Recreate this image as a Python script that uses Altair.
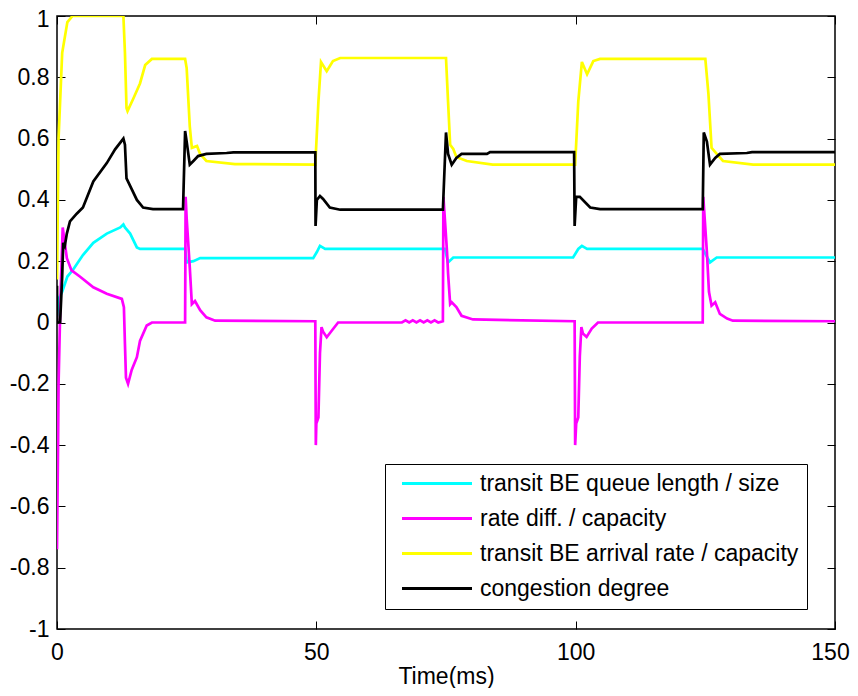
import altair as alt
import pandas as pd

# ---- data ----
names = ["transit BE queue length / size", "rate diff. / capacity",
         "transit BE arrival rate / capacity", "congestion degree"]
colors = ["#00FFFF", "#FF00FF", "#FFFF00", "#000000"]

queue_t = [0, 0.4, 1, 2, 3, 3.8, 5, 7, 9.6, 12.2, 12.8, 13.1, 14.1, 15.4, 16, 24.7, 25, 26.3, 27.6,
           49.4, 50.1, 50.7, 51.7, 74.8, 75.4, 76.4, 99.5, 100.5, 101.2, 102.2, 124.5, 125.9, 127.2, 150]
queue_v = [0.02, 0.08, 0.10, 0.15, 0.17, 0.19, 0.22, 0.26, 0.29, 0.31, 0.32, 0.31, 0.29, 0.245, 0.24, 0.24, 0.196, 0.20, 0.21,
           0.21, 0.23, 0.25, 0.24, 0.24, 0.196, 0.212, 0.212, 0.24, 0.25, 0.24, 0.24, 0.196, 0.212, 0.212]

rate_t = [0, 0.2, 0.3, 0.7, 1.1, 1.9, 2.8, 4.4, 7, 9.6, 12.5, 12.9, 13.1, 13.3, 13.7, 14.4, 15.4, 16, 17.3, 18.3,
          24.7, 24.8, 25, 25.6, 26, 26.6, 27.6, 28.8, 30.5,
          49.8, 49.9, 50.0, 50.4, 50.7, 51.0, 51.3, 52.0, 53.0, 54.2, 66.5,
          67.2, 67.9, 68.6, 69.3, 70.0, 70.7, 71.4, 72.1, 72.8, 73.5, 74.4,
          74.5, 75.2, 75.4, 75.8, 76.1, 77, 78, 80.2,
          99.8, 99.9, 100.1, 100.5, 100.8, 101.1, 101.4, 102.1, 103.1, 104.3,
          124.5, 124.6, 125.3, 125.7, 126.2, 126.9, 127.8, 129.2, 130.3, 150]
rate_v = [-0.74, -0.4, -0.2, 0.1, 0.31, 0.21, 0.17, 0.15, 0.115, 0.094, 0.077, 0.05, -0.07, -0.18, -0.2, -0.155, -0.113, -0.06, -0.01, 0.0,
          0.0, 0.41, 0.34, 0.18, 0.06, 0.07, 0.04, 0.017, 0.006,
          0.004, -0.40, -0.33, -0.31, -0.10, -0.015, -0.03, -0.048, -0.026, 0.0, 0.0,
          0.007, 0.0, 0.007, 0.0, 0.007, 0.0, 0.007, 0.0, 0.007, 0.0, 0.004,
          0.41, 0.23, 0.16, 0.06, 0.066, 0.05, 0.022, 0.01,
          0.004, -0.40, -0.33, -0.31, -0.11, -0.015, -0.036, -0.047, -0.02, 0.0,
          0.0, 0.41, 0.23, 0.1, 0.055, 0.066, 0.028, 0.013, 0.006, 0.004]

arr_t = [0, 0.3, 1, 2, 3, 12.8, 13.1, 13.4, 13.6, 14.7, 16, 17, 18.3, 24.7, 25, 25.6, 26, 27, 27.6, 28.8, 34.3,
         49.8, 50.4, 50.9, 52, 53.2, 54.6, 75, 75.4, 75.8, 76.4, 77, 79, 84,
         99.9, 100.5, 101.2, 102.2, 103.4, 104.7, 125, 125.6, 126.2, 127.2, 128.4, 134.2, 150]
arr_v = [0.14, 0.6, 0.88, 0.98, 1.0, 1.0, 0.88, 0.70, 0.69, 0.73, 0.78, 0.84, 0.86, 0.86, 0.83, 0.64, 0.57, 0.576, 0.55, 0.527, 0.517,
         0.515, 0.72, 0.85, 0.82, 0.853, 0.863, 0.863, 0.72, 0.58, 0.566, 0.54, 0.527, 0.515,
         0.515, 0.72, 0.85, 0.81, 0.853, 0.86, 0.86, 0.745, 0.57, 0.55, 0.527, 0.515, 0.515]

cong_t = [0, 0.05, 0.6, 1.0, 1.2, 1.5, 1.9, 2.5, 3.8, 5, 7, 9.6, 11.2, 12.8, 13.1, 13.4, 14.4, 15.4, 16.6, 18.5,
          24.3, 24.7, 25, 25.6, 26.3, 27.2, 28.8, 32.7, 34,
          49.8, 49.85, 50.1, 50.7, 51.3, 52.6, 54.6, 74.4, 75, 75.4, 76.1, 77, 78, 82.9, 83.5,
          99.7, 99.8, 100.1, 100.8, 102.8, 104.7, 124.5, 124.7, 125.3, 125.9, 126.9, 127.8, 133, 134, 150]
cong_v = [0.12, 0.0, 0.0, 0.15, 0.26, 0.25, 0.29, 0.33, 0.355, 0.375, 0.46, 0.52, 0.565, 0.60, 0.58, 0.47, 0.435, 0.40, 0.375, 0.37,
          0.37, 0.625, 0.59, 0.515, 0.527, 0.543, 0.55, 0.553, 0.555,
          0.555, 0.315, 0.40, 0.413, 0.403, 0.375, 0.368, 0.368, 0.62, 0.55, 0.515, 0.537, 0.55, 0.55, 0.556,
          0.556, 0.315, 0.41, 0.41, 0.375, 0.37, 0.37, 0.62, 0.59, 0.515, 0.537, 0.55, 0.553, 0.556, 0.556]

x_ticks = [0, 50, 100, 150]
y_ticks = [-1, -0.8, -0.6, -0.4, -0.2, 0, 0.2, 0.4, 0.6, 0.8, 1]

frames = []
for name, ts, vs in [(names[0], queue_t, queue_v), (names[1], rate_t, rate_v),
                     (names[2], arr_t, arr_v), (names[3], cong_t, cong_v)]:
    frames.append(pd.DataFrame({"t": ts, "v": vs, "series": name}))
df = pd.concat(frames, ignore_index=True)

FONT = "Liberation Sans"
FS = 23

xscale = alt.Scale(domain=[0, 150], nice=False, zero=False)
yscale = alt.Scale(domain=[-1, 1], nice=False, zero=False)

lines = alt.Chart(df).mark_line(strokeWidth=2.7, clip=True).encode(
    x=alt.X("t:Q", scale=xscale,
            axis=alt.Axis(values=x_ticks, orient="bottom", offset=-8, tickSize=8, domain=False,
                          grid=False, labelPadding=12, title="Time(ms)",
                          titleY=62, titleBaseline="alphabetic",
                          labelOffset=alt.condition("datum.value == 150", alt.value(-5), alt.value(0)),
                          tickColor="black", labelColor="black", titleColor="black",
                          labelFont=FONT, labelFontSize=FS, titleFont=FONT, titleFontSize=FS,
                          titleFontWeight="normal", labelFlush=False)),
    y=alt.Y("v:Q", scale=yscale,
            axis=alt.Axis(values=y_ticks, orient="left", offset=-8, tickSize=8, domain=False,
                          grid=False, labelPadding=8, title=None,
                          labelExpr="toString(datum.value)",
                          labelOffset=alt.condition("datum.value == 1", alt.value(3), alt.value(0)),
                          tickColor="black", labelColor="black",
                          labelFont=FONT, labelFontSize=FS, labelFlush=False)),
    color=alt.Color("series:N", sort=names,
                    scale=alt.Scale(domain=names, range=colors),
                    legend=alt.Legend(orient="none", legendX=328, legendY=448, title=None,
                                      direction="vertical", symbolType="M-10,0H10",
                                      symbolSize=49, symbolStrokeWidth=3,
                                      symbolOffset=32.5, labelOffset=31.5,
                                      rowPadding=11,
                                      labelFont=FONT, labelFontSize=FS, labelColor="black",
                                      strokeColor="black", fillColor="white",
                                      padding=8, labelLimit=500)),
)

ticks = alt.Chart(df).mark_line(opacity=0).encode(
    x=alt.X("t:Q", scale=xscale,
            axis=alt.Axis(values=x_ticks, orient="top", offset=-8, tickSize=8, domain=False,
                          grid=False, labels=False, title=None, tickColor="black")),
    y=alt.Y("v:Q", scale=yscale,
            axis=alt.Axis(values=y_ticks, orient="right", offset=-8, tickSize=8, domain=False,
                          grid=False, labels=False, title=None, tickColor="black")),
    detail="series:N",
)

chart = alt.layer(lines, ticks).resolve_scale(x="independent", y="independent").properties(
    width=778, height=613,
    padding={"left": 49, "top": 8, "right": 15, "bottom": 59},
    autosize=alt.AutoSizeParams(type="none"),
    background="white",
).configure_view(stroke="black", strokeWidth=1.5)

chart.save("out.html", embed_options={"renderer": "svg", "actions": False})
